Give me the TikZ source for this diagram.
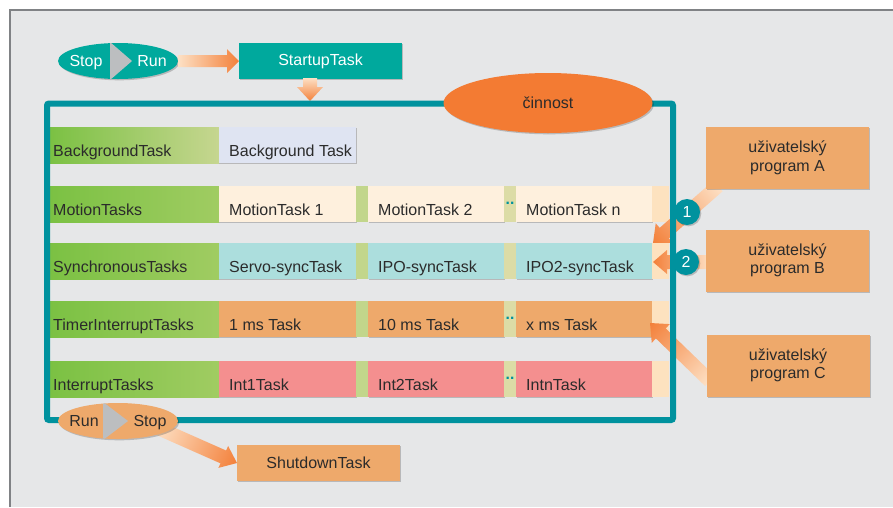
\documentclass[tikz,border=0pt]{standalone}
\usepackage{fontspec}
\setmainfont{Liberation Sans}
\usetikzlibrary{shapes.geometric,shadows}

\definecolor{panelgray}{HTML}{E6E7E8}
\definecolor{bordergray}{HTML}{808285}
\definecolor{lightteal}{HTML}{00A99D}
\definecolor{frameteal}{HTML}{00929E}
\definecolor{orangebox}{HTML}{EEA96B}
\definecolor{orangedeep}{HTML}{F37B33}
\definecolor{arrowpale}{HTML}{FDE0C4}
\definecolor{arrowdeep}{HTML}{F3803A}
\definecolor{bandgreen}{HTML}{7BC143}
\definecolor{bandlight}{HTML}{A0CC62}
\definecolor{bandpale}{HTML}{C6D690}
\definecolor{bgtask}{HTML}{DFE4F2}
\definecolor{motiontask}{HTML}{FEF0DD}
\definecolor{synctask}{HTML}{ACDEDD}
\definecolor{timertask}{HTML}{EEA96B}
\definecolor{inttask}{HTML}{F48F8F}
\definecolor{sepgreen}{HTML}{C2D68B}
\definecolor{sepolive}{HTML}{DCDCA6}
\definecolor{endpeach}{HTML}{FDE2BF}
\definecolor{triangray}{HTML}{BCBEC0}
\definecolor{txtdark}{HTML}{2B2B2B}

% fat shaded arrow: tail, tip, shaft half width, head half width, head length
\newcommand\fatarrow[5]{%
  \path (#1); \pgfgetlastxy{\faXa}{\faYa}%
  \path (#2); \pgfgetlastxy{\faXb}{\faYb}%
  \pgfmathsetmacro\faAng{atan2(\faYb-\faYa,\faXb-\faXa)}%
  \pgfmathsetmacro\faLen{veclen(\faXb-\faXa,\faYb-\faYa)}%
  \pgfmathsetmacro\faBase{\faLen-#5}%
  \begin{scope}[transform canvas={shift={(\faXa,\faYa)},rotate=\faAng}]
    \shade[left color=arrowpale, right color=arrowdeep]
      (0,-#3) -- (\faBase,-#3) -- (\faBase,-#4) -- (\faLen,0)
      -- (\faBase,#4) -- (\faBase,#3) -- (0,#3) -- cycle;
  \end{scope}}

% one coloured cell of a task row: name, left x, right x, top y, fill, text
\newcommand\putcell[6]{%
  \node[taskcell, minimum width={#3-#2}, fill=#5, softshadow] (#1) at (#2,#4) {};
  \node[celltext] (#1-t) at ([xshift=10pt,yshift=7pt]#1.south west) {#6};}

% green row header: name, top y, right colour, text
\newcommand\putband[4]{%
  \node[taskcell, minimum width=169, left color=bandgreen, right color=#3, softshadow] (#1) at (50,#2) {};
  \node[celltext] (#1-t) at ([xshift=3pt,yshift=7pt]#1.south west) {#4};}

% narrow separator: name, width, top-left corner, fill
\newcommand\putsep[4]{%
  \node[taskcell, minimum width=#2, fill=#4] (#1) at (#3) {};}

\begin{document}
\begin{tikzpicture}[x=1pt,y=-1pt,
  font=\fontsize{16}{18.5}\selectfont,
  softshadow/.style={drop shadow={shadow xshift=1.3pt,shadow yshift=-1.3pt,fill=black,opacity=.2}},
  taskcell/.style={anchor=north west, minimum height=36, inner sep=0, outer sep=0},
  celltext/.style={anchor=base west, inner sep=0, text=txtdark},
  ovaltext/.style={anchor=base, inner sep=0},
  tealbox/.style={fill=lightteal, text=white, minimum width=163, minimum height=36, inner sep=0, softshadow},
  orangetask/.style={fill=orangebox, text=txtdark, minimum width=163, minimum height=36, inner sep=0, softshadow},
  progbox/.style={fill=orangebox, text=txtdark, align=center, minimum width=163, minimum height=62, inner sep=0, softshadow},
  numdot/.style={circle, fill=frameteal, text=white, minimum size=26, inner sep=0, softshadow},
  switchoval/.style={ellipse, minimum width=120, minimum height=36, inner sep=0, softshadow}]

\useasboundingbox (0,0) rectangle (893,507);
\fill[panelgray] (10,10) rectangle (893,507);
\draw[bordergray, line width=1.5] (10,507) -- (10,10) -- (893,10);

% ---- start-up ----
\node[switchoval, fill=lightteal] (sr) at (118,61) {};
\begin{scope}
  \clip (118,61) ellipse [x radius=60, y radius=18];
  \fill[triangray] (110,42) -- (132,61) -- (110,80) -- cycle;
\end{scope}
\node[ovaltext, text=white] (sr-stop) at (86,66.5) {Stop};
\node[ovaltext, text=white] (sr-run) at (152,66.5) {Run};

\coordinate (stw) at (239,61);
\fatarrow{sr.east}{stw}{6}{12}{12}
\node[tealbox] (st) at (320.5,61) {StartupTask};
\coordinate (dtail) at (310,78);
\coordinate (dtip) at (310,101);
\fatarrow{dtail}{dtip}{7}{13}{14}

% ---- task rows ----
\putband{r1}{127}{bandpale}{BackgroundTask}
\putcell{bg}{219}{356}{127}{bgtask}{Background Task}

\putband{r2}{186}{bandlight}{MotionTasks}
\putcell{m1}{219}{356}{186}{motiontask}{MotionTask 1}
\putsep{m1s}{12}{356,186}{sepgreen}
\putcell{m2}{368}{504}{186}{motiontask}{MotionTask 2}
\putsep{m2s}{12}{504,186}{sepolive}
\putcell{mn}{516}{652}{186}{motiontask}{MotionTask n}
\putsep{me}{17}{652,186}{endpeach}

\putband{r3}{243}{bandlight}{SynchronousTasks}
\putcell{s1}{219}{356}{243}{synctask}{Servo-syncTask}
\putsep{s1s}{12}{356,243}{sepgreen}
\putcell{s2}{368}{504}{243}{synctask}{IPO-syncTask}
\putsep{s2s}{12}{504,243}{sepolive}
\putcell{s3}{516}{652}{243}{synctask}{IPO2-syncTask}
\putsep{se}{17}{652,243}{endpeach}

\putband{r4}{301}{bandlight}{TimerInterruptTasks}
\putcell{t1}{219}{356}{301}{timertask}{1 ms Task}
\putsep{t1s}{12}{356,301}{sepgreen}
\putcell{t2}{368}{504}{301}{timertask}{10 ms Task}
\putsep{t2s}{12}{504,301}{sepolive}
\putcell{tx}{516}{652}{301}{timertask}{x ms Task}
\putsep{te}{17}{652,301}{endpeach}

\putband{r5}{361}{bandlight}{InterruptTasks}
\putcell{i1}{219}{356}{361}{inttask}{Int1Task}
\putsep{i1s}{12}{356,361}{sepgreen}
\putcell{i2}{368}{504}{361}{inttask}{Int2Task}
\putsep{i2s}{12}{504,361}{sepolive}
\putcell{in}{516}{652}{361}{inttask}{IntnTask}
\putsep{ie}{17}{652,361}{endpeach}

% continuation dots
\foreach \s in {m2s,t2s,i2s}
  \node[text=frameteal, inner sep=0, font=\fontsize{15.6}{18}\selectfont\bfseries] (\s-d) at ([yshift=1pt]\s.center) {..};

% ---- user program arrows ----
\coordinate (tailA) at (718,186);
\coordinate (tipA) at (653,243);
\coordinate (tailB) at (710,262);
\coordinate (tipB) at (653,262);
\coordinate (tailC) at (710,381);
\coordinate (tipC) at (650,323);
\fatarrow{tailA}{tipA}{7}{13}{15}
\fatarrow{tailB}{tipB}{7}{12}{14}
\fatarrow{tailC}{tipC}{7}{13}{15}

% ---- frame ----
\draw[frameteal, line width=6, rounded corners=2] (47,103.5) rectangle (673,420);
\node[ellipse, fill=orangedeep, text=txtdark, minimum width=209, minimum height=60, inner sep=0, softshadow] (act) at (548,103) {činnost};

\node[numdot] (n1) at (687,212) {1};
\node[numdot] (n2) at (686,262) {2};

\node[progbox] (pa) at (787.5,158) {uživatelský\\program A};
\node[progbox] (pb) at (787.5,260.5) {uživatelský\\program B};
\node[progbox] (pc) at (788,365.5) {uživatelský\\program C};

% ---- shut-down ----
\coordinate (sdtail) at (158,428);
\coordinate (sdw) at (237,463);
\fatarrow{sdtail}{sdw}{7}{12}{15}
\node[switchoval, fill=orangebox] (rs) at (118,421) {};
\begin{scope}
  \clip (118,421) ellipse [x radius=60, y radius=18];
  \fill[triangray] (103,402) -- (128,421) -- (103,440) -- cycle;
\end{scope}
\node[ovaltext, text=txtdark] (rs-run) at (84,426.5) {Run};
\node[ovaltext, text=txtdark] (rs-stop) at (150,426.5) {Stop};
\node[orangetask] (sd) at (318.5,463) {ShutdownTask};

\end{tikzpicture}
\end{document}
